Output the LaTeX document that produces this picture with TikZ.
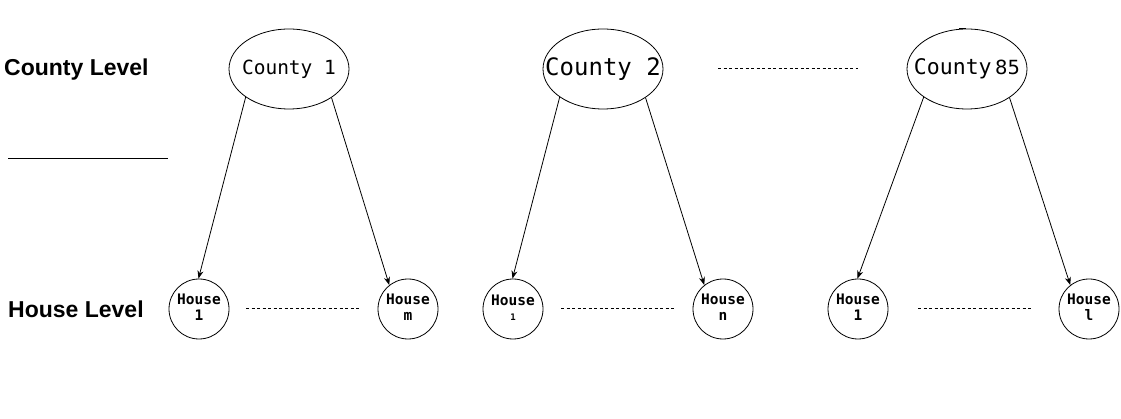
\documentclass[tikz,border=0pt]{standalone}
\usepackage{fontspec}
\setmainfont{Liberation Sans}
\newfontfamily\monofont{DejaVu Sans Mono}
\newfontfamily\dvsans{DejaVu Sans}
\usetikzlibrary{shapes.geometric,arrows.meta}
\begin{document}
\begin{tikzpicture}[x=1pt,y=-1pt,
  county/.style={draw,ellipse,minimum width=120pt,minimum height=80pt,inner sep=0pt,line width=0.8pt},
  house/.style={draw,circle,minimum size=60pt,inner sep=0pt,line width=0.8pt,font=\monofont\bfseries\fontsize{14.5}{18}\selectfont},
  conn/.style={-{Stealth[length=8pt,width=6pt]},line width=0.8pt},
  dots/.style={dash pattern=on 3pt off 2.5pt,line width=0.8pt},
  levellabel/.style={font=\bfseries\fontsize{23}{26}\selectfont,anchor=west,inner sep=0pt}]
\useasboundingbox (0,0) rectangle (1121,419);
\node[levellabel] (cl) at (4,70) {County Level};
\node[levellabel] (hl) at (8,309) {House Level};
\coordinate (sepL) at (8,158);
\coordinate (sepR) at (168,158);
\draw[line width=0.8pt] (sepL) -- (sepR);

\node[county] (c1) at (289,69) {\makebox[0pt]{\monofont\fontsize{19.5}{22}\selectfont County 1}};
\node[county] (c2) at (603,69) {\makebox[0pt]{\monofont\fontsize{24}{26}\selectfont County 2}};
\node[county] (c3) at (967,69) {\makebox[0pt]{\monofont\fontsize{21.5}{24}\selectfont County\,{\dvsans\fontsize{19.5}{22}\selectfont 85}}};
\coordinate (tickA) at (959,29);
\coordinate (tickB) at (966,29);
\draw[line width=1pt] (tickA) -- (tickB);

\node[house] (h11) at (199,309) {\makebox[0pt]{\begin{tabular}{@{}c@{}}House\\[-2pt]1\end{tabular}}};
\node[house] (h1m) at (408,309) {\makebox[0pt]{\begin{tabular}{@{}c@{}}House\\[-2pt]m\end{tabular}}};
\node[house] (h21) at (513,309) {\makebox[0pt]{\begin{tabular}{@{}c@{}}House\\[-3pt]{\fontsize{9}{10}\selectfont 1}\end{tabular}}};
\node[house] (h2n) at (723,309) {\makebox[0pt]{\begin{tabular}{@{}c@{}}House\\[-2pt]n\end{tabular}}};
\node[house] (h31) at (858,309) {\makebox[0pt]{\begin{tabular}{@{}c@{}}House\\[-2pt]1\end{tabular}}};
\node[house] (h3l) at (1089,309) {\makebox[0pt]{\begin{tabular}{@{}c@{}}House\\[-2pt]l\end{tabular}}};

\draw[conn] (c1.213) -- (h11.91);
\draw[conn] (c1.326) -- (h1m.128);
\draw[conn] (c2.213) -- (h21.91);
\draw[conn] (c2.326) -- (h2n.128);
\draw[conn] (c3.213) -- (h31.91);
\draw[conn] (c3.326) -- (h3l.128);

\coordinate (d1a) at (246,308); \coordinate (d1b) at (361,308);
\coordinate (d2a) at (561,308); \coordinate (d2b) at (676,308);
\coordinate (d3a) at (918,308); \coordinate (d3b) at (1033,308);
\coordinate (d4a) at (718,68); \coordinate (d4b) at (858,68);
\draw[dots] (d1a) -- (d1b);
\draw[dots] (d2a) -- (d2b);
\draw[dots] (d3a) -- (d3b);
\draw[dots] (d4a) -- (d4b);
\end{tikzpicture}
\end{document}
